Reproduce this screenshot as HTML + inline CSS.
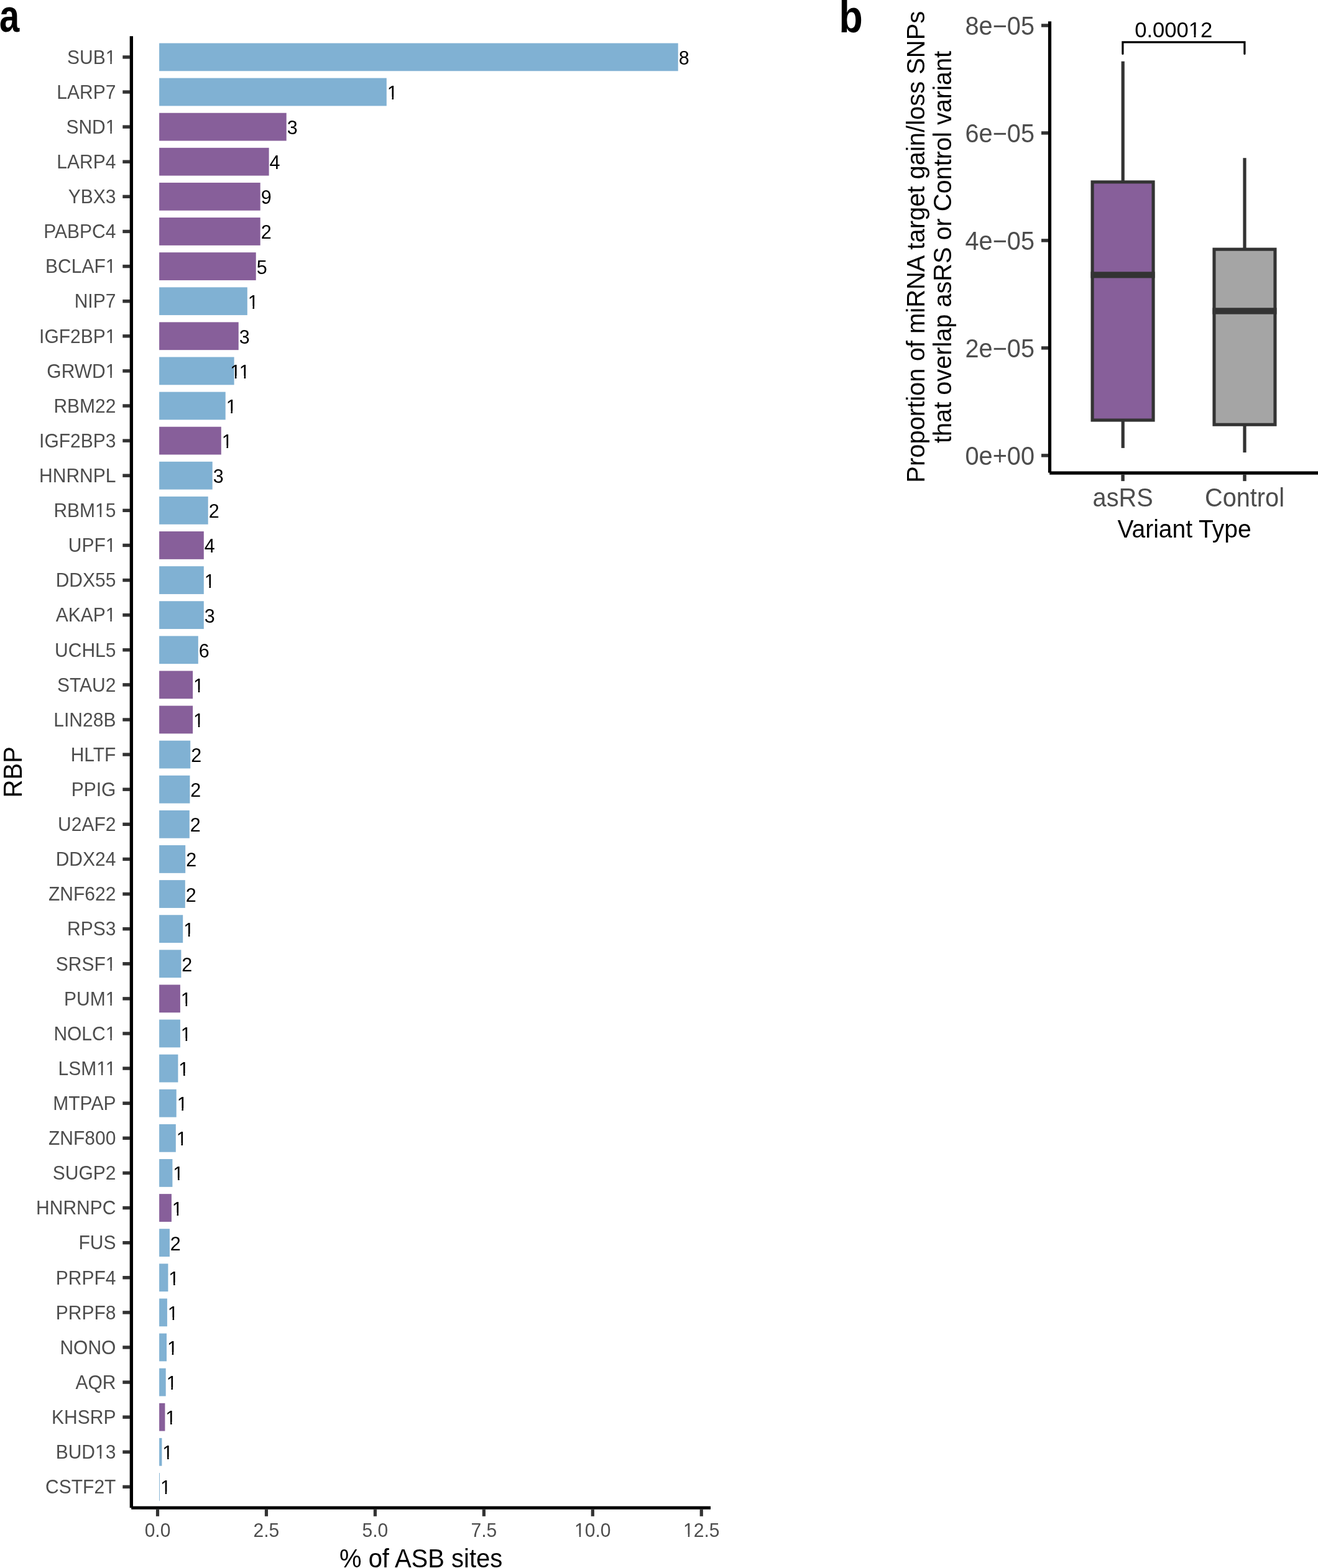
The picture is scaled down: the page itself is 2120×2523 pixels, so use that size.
<!DOCTYPE html>
<html><head><meta charset="utf-8"><title>Figure</title>
<style>
html,body{margin:0;padding:0;background:#fff;overflow:hidden;}
svg{display:block;}
text{font-family:"Liberation Sans",Arial,Helvetica,sans-serif;}
.mid{text-anchor:middle;}
.v{font-size:30.5px;fill:#000;text-anchor:middle;}
.yl{font-size:30px;fill:#4D4D4D;text-anchor:end;}
.xl{font-size:30px;fill:#4D4D4D;text-anchor:middle;}
.t40{font-size:40px;fill:#000;}
.t39{font-size:39.7px;fill:#000;}
.t35{font-size:34.6px;fill:#000;}
.vt{font-size:39px;}
.yb{font-size:39.7px;fill:#4D4D4D;text-anchor:end;}
.xb{font-size:39.7px;fill:#4D4D4D;text-anchor:middle;}
.lab{font-size:72px;font-weight:bold;fill:#000;}
</style></head>
<body>
<svg width="2120" height="2523" viewBox="0 0 2120 2523">
<defs><clipPath id="ct1_1" clipPathUnits="userSpaceOnUse"><rect x="-5000.00" y="-5000.00" width="4991.52" height="10000.00"/><rect x="8.48" y="-5000.00" width="5000.00" height="10000.00"/><rect x="-5000.00" y="-5000.00" width="10000.00" height="4996.03"/><rect x="-0.74" y="-5000.00" width="2.52" height="10000.00"/></clipPath><clipPath id="ct1_2" clipPathUnits="userSpaceOnUse"><rect x="-5000.00" y="-5000.00" width="4991.52" height="10000.00"/><rect x="8.48" y="-5000.00" width="5000.00" height="10000.00"/><rect x="-5000.00" y="-5000.00" width="10000.00" height="4996.03"/><rect x="-0.74" y="-5000.00" width="2.52" height="10000.00"/></clipPath><clipPath id="ct1_3" clipPathUnits="userSpaceOnUse"><rect x="-5000.00" y="-5000.00" width="4984.17" height="10000.00"/><rect x="15.83" y="-5000.00" width="5000.00" height="10000.00"/><rect x="-5000.00" y="-5000.00" width="10000.00" height="4996.03"/><rect x="-8.10" y="-5000.00" width="2.52" height="10000.00"/><rect x="6.59" y="-5000.00" width="2.52" height="10000.00"/></clipPath><clipPath id="ct1_4" clipPathUnits="userSpaceOnUse"><rect x="-5000.00" y="-5000.00" width="4991.52" height="10000.00"/><rect x="8.48" y="-5000.00" width="5000.00" height="10000.00"/><rect x="-5000.00" y="-5000.00" width="10000.00" height="4996.03"/><rect x="-0.74" y="-5000.00" width="2.52" height="10000.00"/></clipPath><clipPath id="ct1_5" clipPathUnits="userSpaceOnUse"><rect x="-5000.00" y="-5000.00" width="4991.52" height="10000.00"/><rect x="8.48" y="-5000.00" width="5000.00" height="10000.00"/><rect x="-5000.00" y="-5000.00" width="10000.00" height="4996.03"/><rect x="-0.74" y="-5000.00" width="2.52" height="10000.00"/></clipPath><clipPath id="ct1_6" clipPathUnits="userSpaceOnUse"><rect x="-5000.00" y="-5000.00" width="4991.52" height="10000.00"/><rect x="8.48" y="-5000.00" width="5000.00" height="10000.00"/><rect x="-5000.00" y="-5000.00" width="10000.00" height="4996.03"/><rect x="-0.74" y="-5000.00" width="2.52" height="10000.00"/></clipPath><clipPath id="ct1_7" clipPathUnits="userSpaceOnUse"><rect x="-5000.00" y="-5000.00" width="4991.52" height="10000.00"/><rect x="8.48" y="-5000.00" width="5000.00" height="10000.00"/><rect x="-5000.00" y="-5000.00" width="10000.00" height="4996.03"/><rect x="-0.74" y="-5000.00" width="2.52" height="10000.00"/></clipPath><clipPath id="ct1_8" clipPathUnits="userSpaceOnUse"><rect x="-5000.00" y="-5000.00" width="4991.52" height="10000.00"/><rect x="8.48" y="-5000.00" width="5000.00" height="10000.00"/><rect x="-5000.00" y="-5000.00" width="10000.00" height="4996.03"/><rect x="-0.74" y="-5000.00" width="2.52" height="10000.00"/></clipPath><clipPath id="ct1_9" clipPathUnits="userSpaceOnUse"><rect x="-5000.00" y="-5000.00" width="4991.52" height="10000.00"/><rect x="8.48" y="-5000.00" width="5000.00" height="10000.00"/><rect x="-5000.00" y="-5000.00" width="10000.00" height="4996.03"/><rect x="-0.74" y="-5000.00" width="2.52" height="10000.00"/></clipPath><clipPath id="ct1_10" clipPathUnits="userSpaceOnUse"><rect x="-5000.00" y="-5000.00" width="4991.52" height="10000.00"/><rect x="8.48" y="-5000.00" width="5000.00" height="10000.00"/><rect x="-5000.00" y="-5000.00" width="10000.00" height="4996.03"/><rect x="-0.74" y="-5000.00" width="2.52" height="10000.00"/></clipPath><clipPath id="ct1_11" clipPathUnits="userSpaceOnUse"><rect x="-5000.00" y="-5000.00" width="4991.52" height="10000.00"/><rect x="8.48" y="-5000.00" width="5000.00" height="10000.00"/><rect x="-5000.00" y="-5000.00" width="10000.00" height="4996.03"/><rect x="-0.74" y="-5000.00" width="2.52" height="10000.00"/></clipPath><clipPath id="ct1_12" clipPathUnits="userSpaceOnUse"><rect x="-5000.00" y="-5000.00" width="4991.52" height="10000.00"/><rect x="8.48" y="-5000.00" width="5000.00" height="10000.00"/><rect x="-5000.00" y="-5000.00" width="10000.00" height="4996.03"/><rect x="-0.74" y="-5000.00" width="2.52" height="10000.00"/></clipPath><clipPath id="ct1_13" clipPathUnits="userSpaceOnUse"><rect x="-5000.00" y="-5000.00" width="4991.52" height="10000.00"/><rect x="8.48" y="-5000.00" width="5000.00" height="10000.00"/><rect x="-5000.00" y="-5000.00" width="10000.00" height="4996.03"/><rect x="-0.74" y="-5000.00" width="2.52" height="10000.00"/></clipPath><clipPath id="ct1_14" clipPathUnits="userSpaceOnUse"><rect x="-5000.00" y="-5000.00" width="4991.52" height="10000.00"/><rect x="8.48" y="-5000.00" width="5000.00" height="10000.00"/><rect x="-5000.00" y="-5000.00" width="10000.00" height="4996.03"/><rect x="-0.74" y="-5000.00" width="2.52" height="10000.00"/></clipPath><clipPath id="ct1_15" clipPathUnits="userSpaceOnUse"><rect x="-5000.00" y="-5000.00" width="4991.52" height="10000.00"/><rect x="8.48" y="-5000.00" width="5000.00" height="10000.00"/><rect x="-5000.00" y="-5000.00" width="10000.00" height="4996.03"/><rect x="-0.74" y="-5000.00" width="2.52" height="10000.00"/></clipPath><clipPath id="ct1_16" clipPathUnits="userSpaceOnUse"><rect x="-5000.00" y="-5000.00" width="4991.52" height="10000.00"/><rect x="8.48" y="-5000.00" width="5000.00" height="10000.00"/><rect x="-5000.00" y="-5000.00" width="10000.00" height="4996.03"/><rect x="-0.74" y="-5000.00" width="2.52" height="10000.00"/></clipPath><clipPath id="ct1_17" clipPathUnits="userSpaceOnUse"><rect x="-5000.00" y="-5000.00" width="4991.52" height="10000.00"/><rect x="8.48" y="-5000.00" width="5000.00" height="10000.00"/><rect x="-5000.00" y="-5000.00" width="10000.00" height="4996.03"/><rect x="-0.74" y="-5000.00" width="2.52" height="10000.00"/></clipPath><clipPath id="ct1_18" clipPathUnits="userSpaceOnUse"><rect x="-5000.00" y="-5000.00" width="4991.52" height="10000.00"/><rect x="8.48" y="-5000.00" width="5000.00" height="10000.00"/><rect x="-5000.00" y="-5000.00" width="10000.00" height="4996.03"/><rect x="-0.74" y="-5000.00" width="2.52" height="10000.00"/></clipPath><clipPath id="ct1_19" clipPathUnits="userSpaceOnUse"><rect x="-5000.00" y="-5000.00" width="4991.52" height="10000.00"/><rect x="8.48" y="-5000.00" width="5000.00" height="10000.00"/><rect x="-5000.00" y="-5000.00" width="10000.00" height="4996.03"/><rect x="-0.74" y="-5000.00" width="2.52" height="10000.00"/></clipPath><clipPath id="ct1_20" clipPathUnits="userSpaceOnUse"><rect x="-5000.00" y="-5000.00" width="4991.52" height="10000.00"/><rect x="8.48" y="-5000.00" width="5000.00" height="10000.00"/><rect x="-5000.00" y="-5000.00" width="10000.00" height="4996.03"/><rect x="-0.74" y="-5000.00" width="2.52" height="10000.00"/></clipPath><clipPath id="ct1_21" clipPathUnits="userSpaceOnUse"><rect x="-5000.00" y="-5000.00" width="4991.52" height="10000.00"/><rect x="8.48" y="-5000.00" width="5000.00" height="10000.00"/><rect x="-5000.00" y="-5000.00" width="10000.00" height="4996.03"/><rect x="-0.74" y="-5000.00" width="2.52" height="10000.00"/></clipPath><clipPath id="ct1_22" clipPathUnits="userSpaceOnUse"><rect x="-5000.00" y="-5000.00" width="4991.52" height="10000.00"/><rect x="8.48" y="-5000.00" width="5000.00" height="10000.00"/><rect x="-5000.00" y="-5000.00" width="10000.00" height="4996.03"/><rect x="-0.74" y="-5000.00" width="2.52" height="10000.00"/></clipPath><clipPath id="ct1_23" clipPathUnits="userSpaceOnUse"><rect x="-5000.00" y="-5000.00" width="4991.52" height="10000.00"/><rect x="8.48" y="-5000.00" width="5000.00" height="10000.00"/><rect x="-5000.00" y="-5000.00" width="10000.00" height="4996.03"/><rect x="-0.74" y="-5000.00" width="2.52" height="10000.00"/></clipPath><clipPath id="ct1_24" clipPathUnits="userSpaceOnUse"><rect x="-5000.00" y="-5000.00" width="4983.30" height="10000.00"/><rect x="0.00" y="-5000.00" width="5000.00" height="10000.00"/><rect x="-5000.00" y="-5000.00" width="10000.00" height="4996.10"/><rect x="-9.09" y="-5000.00" width="2.48" height="10000.00"/></clipPath><clipPath id="ct1_25" clipPathUnits="userSpaceOnUse"><rect x="-5000.00" y="-5000.00" width="4983.31" height="10000.00"/><rect x="0.00" y="-5000.00" width="5000.00" height="10000.00"/><rect x="-5000.00" y="-5000.00" width="10000.00" height="4996.10"/><rect x="-9.08" y="-5000.00" width="2.48" height="10000.00"/></clipPath><clipPath id="ct1_26" clipPathUnits="userSpaceOnUse"><rect x="-5000.00" y="-5000.00" width="4983.31" height="10000.00"/><rect x="0.00" y="-5000.00" width="5000.00" height="10000.00"/><rect x="-5000.00" y="-5000.00" width="10000.00" height="4996.10"/><rect x="-9.08" y="-5000.00" width="2.48" height="10000.00"/></clipPath><clipPath id="ct1_27" clipPathUnits="userSpaceOnUse"><rect x="-5000.00" y="-5000.00" width="4983.31" height="10000.00"/><rect x="0.00" y="-5000.00" width="5000.00" height="10000.00"/><rect x="-5000.00" y="-5000.00" width="10000.00" height="4996.10"/><rect x="-9.08" y="-5000.00" width="2.48" height="10000.00"/></clipPath><clipPath id="ct1_28" clipPathUnits="userSpaceOnUse"><rect x="-5000.00" y="-5000.00" width="4983.31" height="10000.00"/><rect x="0.00" y="-5000.00" width="5000.00" height="10000.00"/><rect x="-5000.00" y="-5000.00" width="10000.00" height="4996.10"/><rect x="-9.08" y="-5000.00" width="2.48" height="10000.00"/></clipPath><clipPath id="ct1_29" clipPathUnits="userSpaceOnUse"><rect x="-5000.00" y="-5000.00" width="4966.63" height="10000.00"/><rect x="-16.69" y="-5000.00" width="5000.00" height="10000.00"/><rect x="-5000.00" y="-5000.00" width="10000.00" height="4996.10"/><rect x="-25.76" y="-5000.00" width="2.48" height="10000.00"/></clipPath><clipPath id="ct1_30" clipPathUnits="userSpaceOnUse"><rect x="-5000.00" y="-5000.00" width="4983.31" height="10000.00"/><rect x="0.00" y="-5000.00" width="5000.00" height="10000.00"/><rect x="-5000.00" y="-5000.00" width="10000.00" height="4996.10"/><rect x="-9.08" y="-5000.00" width="2.48" height="10000.00"/></clipPath><clipPath id="ct1_31" clipPathUnits="userSpaceOnUse"><rect x="-5000.00" y="-5000.00" width="4983.30" height="10000.00"/><rect x="0.00" y="-5000.00" width="5000.00" height="10000.00"/><rect x="-5000.00" y="-5000.00" width="10000.00" height="4996.10"/><rect x="-9.09" y="-5000.00" width="2.48" height="10000.00"/></clipPath><clipPath id="ct1_32" clipPathUnits="userSpaceOnUse"><rect x="-5000.00" y="-5000.00" width="4983.30" height="10000.00"/><rect x="0.00" y="-5000.00" width="5000.00" height="10000.00"/><rect x="-5000.00" y="-5000.00" width="10000.00" height="4996.10"/><rect x="-9.09" y="-5000.00" width="2.48" height="10000.00"/></clipPath><clipPath id="ct1_33" clipPathUnits="userSpaceOnUse"><rect x="-5000.00" y="-5000.00" width="4983.31" height="10000.00"/><rect x="0.00" y="-5000.00" width="5000.00" height="10000.00"/><rect x="-5000.00" y="-5000.00" width="10000.00" height="4996.10"/><rect x="-9.08" y="-5000.00" width="2.48" height="10000.00"/></clipPath><clipPath id="ct1_34" clipPathUnits="userSpaceOnUse"><rect x="-5000.00" y="-5000.00" width="4983.30" height="10000.00"/><rect x="0.00" y="-5000.00" width="5000.00" height="10000.00"/><rect x="-5000.00" y="-5000.00" width="10000.00" height="4996.10"/><rect x="-9.09" y="-5000.00" width="2.48" height="10000.00"/></clipPath><clipPath id="ct1_35" clipPathUnits="userSpaceOnUse"><rect x="-5000.00" y="-5000.00" width="4968.85" height="10000.00"/><rect x="0.00" y="-5000.00" width="5000.00" height="10000.00"/><rect x="-5000.00" y="-5000.00" width="10000.00" height="4996.10"/><rect x="-23.54" y="-5000.00" width="2.48" height="10000.00"/><rect x="-9.09" y="-5000.00" width="2.48" height="10000.00"/></clipPath><clipPath id="ct1_36" clipPathUnits="userSpaceOnUse"><rect x="-5000.00" y="-5000.00" width="4966.63" height="10000.00"/><rect x="-16.69" y="-5000.00" width="5000.00" height="10000.00"/><rect x="-5000.00" y="-5000.00" width="10000.00" height="4996.10"/><rect x="-25.76" y="-5000.00" width="2.48" height="10000.00"/></clipPath><clipPath id="ct1_37" clipPathUnits="userSpaceOnUse"><rect x="-5000.00" y="-5000.00" width="4970.81" height="10000.00"/><rect x="-12.50" y="-5000.00" width="5000.00" height="10000.00"/><rect x="-5000.00" y="-5000.00" width="10000.00" height="4996.10"/><rect x="-21.58" y="-5000.00" width="2.48" height="10000.00"/></clipPath><clipPath id="ct1_38" clipPathUnits="userSpaceOnUse"><rect x="-5000.00" y="-5000.00" width="4970.81" height="10000.00"/><rect x="-12.50" y="-5000.00" width="5000.00" height="10000.00"/><rect x="-5000.00" y="-5000.00" width="10000.00" height="4996.10"/><rect x="-21.58" y="-5000.00" width="2.48" height="10000.00"/></clipPath><clipPath id="ct1_39" clipPathUnits="userSpaceOnUse"><rect x="-5000.00" y="-5000.00" width="5024.02" height="10000.00"/><rect x="43.27" y="-5000.00" width="5000.00" height="10000.00"/><rect x="-5000.00" y="-5000.00" width="10000.00" height="4995.50"/><rect x="32.79" y="-5000.00" width="2.88" height="10000.00"/></clipPath></defs>
<rect x="0" y="0" width="2120" height="2523" fill="#fff"/>
<rect x="256.1" y="69.50" width="834.60" height="44.8" fill="#80B1D3"/>
<rect x="256.1" y="125.61" width="365.70" height="44.8" fill="#80B1D3"/>
<rect x="256.1" y="181.72" width="204.60" height="44.8" fill="#875F9A"/>
<rect x="256.1" y="237.83" width="176.50" height="44.8" fill="#875F9A"/>
<rect x="256.1" y="293.94" width="162.60" height="44.8" fill="#875F9A"/>
<rect x="256.1" y="350.05" width="162.60" height="44.8" fill="#875F9A"/>
<rect x="256.1" y="406.16" width="155.60" height="44.8" fill="#875F9A"/>
<rect x="256.1" y="462.27" width="141.70" height="44.8" fill="#80B1D3"/>
<rect x="256.1" y="518.38" width="127.60" height="44.8" fill="#875F9A"/>
<rect x="256.1" y="574.49" width="120.50" height="44.8" fill="#80B1D3"/>
<rect x="256.1" y="630.60" width="106.60" height="44.8" fill="#80B1D3"/>
<rect x="256.1" y="686.71" width="99.70" height="44.8" fill="#875F9A"/>
<rect x="256.1" y="742.82" width="85.60" height="44.8" fill="#80B1D3"/>
<rect x="256.1" y="798.93" width="78.60" height="44.8" fill="#80B1D3"/>
<rect x="256.1" y="855.04" width="71.70" height="44.8" fill="#875F9A"/>
<rect x="256.1" y="911.15" width="71.70" height="44.8" fill="#80B1D3"/>
<rect x="256.1" y="967.26" width="71.70" height="44.8" fill="#80B1D3"/>
<rect x="256.1" y="1023.37" width="62.70" height="44.8" fill="#80B1D3"/>
<rect x="256.1" y="1079.48" width="54.00" height="44.8" fill="#875F9A"/>
<rect x="256.1" y="1135.59" width="54.00" height="44.8" fill="#875F9A"/>
<rect x="256.1" y="1191.70" width="50.10" height="44.8" fill="#80B1D3"/>
<rect x="256.1" y="1247.81" width="49.30" height="44.8" fill="#80B1D3"/>
<rect x="256.1" y="1303.92" width="48.70" height="44.8" fill="#80B1D3"/>
<rect x="256.1" y="1360.03" width="42.10" height="44.8" fill="#80B1D3"/>
<rect x="256.1" y="1416.14" width="41.70" height="44.8" fill="#80B1D3"/>
<rect x="256.1" y="1472.25" width="38.10" height="44.8" fill="#80B1D3"/>
<rect x="256.1" y="1528.36" width="35.30" height="44.8" fill="#80B1D3"/>
<rect x="256.1" y="1584.47" width="33.80" height="44.8" fill="#875F9A"/>
<rect x="256.1" y="1640.58" width="33.80" height="44.8" fill="#80B1D3"/>
<rect x="256.1" y="1696.69" width="30.30" height="44.8" fill="#80B1D3"/>
<rect x="256.1" y="1752.80" width="27.60" height="44.8" fill="#80B1D3"/>
<rect x="256.1" y="1808.91" width="26.70" height="44.8" fill="#80B1D3"/>
<rect x="256.1" y="1865.02" width="21.30" height="44.8" fill="#80B1D3"/>
<rect x="256.1" y="1921.13" width="19.80" height="44.8" fill="#875F9A"/>
<rect x="256.1" y="1977.24" width="16.80" height="44.8" fill="#80B1D3"/>
<rect x="256.1" y="2033.35" width="14.30" height="44.8" fill="#80B1D3"/>
<rect x="256.1" y="2089.46" width="12.80" height="44.8" fill="#80B1D3"/>
<rect x="256.1" y="2145.57" width="11.90" height="44.8" fill="#80B1D3"/>
<rect x="256.1" y="2201.68" width="10.60" height="44.8" fill="#80B1D3"/>
<rect x="256.1" y="2257.79" width="9.30" height="44.8" fill="#875F9A"/>
<rect x="256.1" y="2313.90" width="4.30" height="44.8" fill="#80B1D3"/>
<rect x="256.1" y="2370.01" width="0.90" height="44.8" fill="#80B1D3"/>
<text transform="translate(1100.10,103.90) scale(1.0,1.05)" class="v">8</text>
<text clip-path="url(#ct1_1)" transform="translate(631.20,160.01) scale(1.0,1.05)" class="v">1</text>
<text transform="translate(470.10,216.12) scale(1.0,1.05)" class="v">3</text>
<text transform="translate(442.00,272.23) scale(1.0,1.05)" class="v">4</text>
<text transform="translate(428.10,328.34) scale(1.0,1.05)" class="v">9</text>
<text transform="translate(428.10,384.45) scale(1.0,1.05)" class="v">2</text>
<text transform="translate(421.10,440.56) scale(1.0,1.05)" class="v">5</text>
<text clip-path="url(#ct1_2)" transform="translate(407.20,496.67) scale(1.0,1.05)" class="v">1</text>
<text transform="translate(393.10,552.78) scale(1.0,1.05)" class="v">3</text>
<text clip-path="url(#ct1_3)" transform="translate(386.00,608.89) scale(1.0,1.05)" class="v">11</text>
<text clip-path="url(#ct1_4)" transform="translate(372.10,665.00) scale(1.0,1.05)" class="v">1</text>
<text clip-path="url(#ct1_5)" transform="translate(365.20,721.11) scale(1.0,1.05)" class="v">1</text>
<text transform="translate(351.10,777.22) scale(1.0,1.05)" class="v">3</text>
<text transform="translate(344.10,833.33) scale(1.0,1.05)" class="v">2</text>
<text transform="translate(337.20,889.44) scale(1.0,1.05)" class="v">4</text>
<text clip-path="url(#ct1_6)" transform="translate(337.20,945.55) scale(1.0,1.05)" class="v">1</text>
<text transform="translate(337.20,1001.66) scale(1.0,1.05)" class="v">3</text>
<text transform="translate(328.20,1057.77) scale(1.0,1.05)" class="v">6</text>
<text clip-path="url(#ct1_7)" transform="translate(319.50,1113.88) scale(1.0,1.05)" class="v">1</text>
<text clip-path="url(#ct1_8)" transform="translate(319.50,1169.99) scale(1.0,1.05)" class="v">1</text>
<text transform="translate(315.60,1226.10) scale(1.0,1.05)" class="v">2</text>
<text transform="translate(314.80,1282.21) scale(1.0,1.05)" class="v">2</text>
<text transform="translate(314.20,1338.32) scale(1.0,1.05)" class="v">2</text>
<text transform="translate(307.60,1394.43) scale(1.0,1.05)" class="v">2</text>
<text transform="translate(307.20,1450.54) scale(1.0,1.05)" class="v">2</text>
<text clip-path="url(#ct1_9)" transform="translate(303.60,1506.65) scale(1.0,1.05)" class="v">1</text>
<text transform="translate(300.80,1562.76) scale(1.0,1.05)" class="v">2</text>
<text clip-path="url(#ct1_10)" transform="translate(299.30,1618.87) scale(1.0,1.05)" class="v">1</text>
<text clip-path="url(#ct1_11)" transform="translate(299.30,1674.98) scale(1.0,1.05)" class="v">1</text>
<text clip-path="url(#ct1_12)" transform="translate(295.80,1731.09) scale(1.0,1.05)" class="v">1</text>
<text clip-path="url(#ct1_13)" transform="translate(293.10,1787.20) scale(1.0,1.05)" class="v">1</text>
<text clip-path="url(#ct1_14)" transform="translate(292.20,1843.31) scale(1.0,1.05)" class="v">1</text>
<text clip-path="url(#ct1_15)" transform="translate(286.80,1899.42) scale(1.0,1.05)" class="v">1</text>
<text clip-path="url(#ct1_16)" transform="translate(285.30,1955.53) scale(1.0,1.05)" class="v">1</text>
<text transform="translate(282.30,2011.64) scale(1.0,1.05)" class="v">2</text>
<text clip-path="url(#ct1_17)" transform="translate(279.80,2067.75) scale(1.0,1.05)" class="v">1</text>
<text clip-path="url(#ct1_18)" transform="translate(278.30,2123.86) scale(1.0,1.05)" class="v">1</text>
<text clip-path="url(#ct1_19)" transform="translate(277.40,2179.97) scale(1.0,1.05)" class="v">1</text>
<text clip-path="url(#ct1_20)" transform="translate(276.10,2236.08) scale(1.0,1.05)" class="v">1</text>
<text clip-path="url(#ct1_21)" transform="translate(274.80,2292.19) scale(1.0,1.05)" class="v">1</text>
<text clip-path="url(#ct1_22)" transform="translate(269.80,2348.30) scale(1.0,1.05)" class="v">1</text>
<text clip-path="url(#ct1_23)" transform="translate(266.40,2404.41) scale(1.0,1.05)" class="v">1</text>
<text clip-path="url(#ct1_24)" transform="translate(186.40,102.70) scale(1.0,1.05)" class="yl">SUB1</text>
<rect x="197.3" y="89.20" width="11.6" height="5.4" fill="#333333"/>
<text transform="translate(186.40,158.81) scale(1.0,1.05)" class="yl">LARP7</text>
<rect x="197.3" y="145.31" width="11.6" height="5.4" fill="#333333"/>
<text clip-path="url(#ct1_25)" transform="translate(186.40,214.92) scale(1.0,1.05)" class="yl">SND1</text>
<rect x="197.3" y="201.42" width="11.6" height="5.4" fill="#333333"/>
<text transform="translate(186.40,271.03) scale(1.0,1.05)" class="yl">LARP4</text>
<rect x="197.3" y="257.53" width="11.6" height="5.4" fill="#333333"/>
<text transform="translate(186.40,327.14) scale(1.0,1.05)" class="yl">YBX3</text>
<rect x="197.3" y="313.64" width="11.6" height="5.4" fill="#333333"/>
<text transform="translate(186.40,383.25) scale(1.0,1.05)" class="yl">PABPC4</text>
<rect x="197.3" y="369.75" width="11.6" height="5.4" fill="#333333"/>
<text clip-path="url(#ct1_26)" transform="translate(186.40,439.36) scale(1.0,1.05)" class="yl">BCLAF1</text>
<rect x="197.3" y="425.86" width="11.6" height="5.4" fill="#333333"/>
<text transform="translate(186.40,495.47) scale(1.0,1.05)" class="yl">NIP7</text>
<rect x="197.3" y="481.97" width="11.6" height="5.4" fill="#333333"/>
<text clip-path="url(#ct1_27)" transform="translate(186.40,551.58) scale(1.0,1.05)" class="yl">IGF2BP1</text>
<rect x="197.3" y="538.08" width="11.6" height="5.4" fill="#333333"/>
<text clip-path="url(#ct1_28)" transform="translate(186.40,607.69) scale(1.0,1.05)" class="yl">GRWD1</text>
<rect x="197.3" y="594.19" width="11.6" height="5.4" fill="#333333"/>
<text transform="translate(186.40,663.80) scale(1.0,1.05)" class="yl">RBM22</text>
<rect x="197.3" y="650.30" width="11.6" height="5.4" fill="#333333"/>
<text transform="translate(186.40,719.91) scale(1.0,1.05)" class="yl">IGF2BP3</text>
<rect x="197.3" y="706.41" width="11.6" height="5.4" fill="#333333"/>
<text transform="translate(186.40,776.02) scale(1.0,1.05)" class="yl">HNRNPL</text>
<rect x="197.3" y="762.52" width="11.6" height="5.4" fill="#333333"/>
<text clip-path="url(#ct1_29)" transform="translate(186.40,832.13) scale(1.0,1.05)" class="yl">RBM15</text>
<rect x="197.3" y="818.63" width="11.6" height="5.4" fill="#333333"/>
<text clip-path="url(#ct1_30)" transform="translate(186.40,888.24) scale(1.0,1.05)" class="yl">UPF1</text>
<rect x="197.3" y="874.74" width="11.6" height="5.4" fill="#333333"/>
<text transform="translate(186.40,944.35) scale(1.0,1.05)" class="yl">DDX55</text>
<rect x="197.3" y="930.85" width="11.6" height="5.4" fill="#333333"/>
<text clip-path="url(#ct1_31)" transform="translate(186.40,1000.46) scale(1.0,1.05)" class="yl">AKAP1</text>
<rect x="197.3" y="986.96" width="11.6" height="5.4" fill="#333333"/>
<text transform="translate(186.40,1056.57) scale(1.0,1.05)" class="yl">UCHL5</text>
<rect x="197.3" y="1043.07" width="11.6" height="5.4" fill="#333333"/>
<text transform="translate(186.40,1112.68) scale(1.0,1.05)" class="yl">STAU2</text>
<rect x="197.3" y="1099.18" width="11.6" height="5.4" fill="#333333"/>
<text transform="translate(186.40,1168.79) scale(1.0,1.05)" class="yl">LIN28B</text>
<rect x="197.3" y="1155.29" width="11.6" height="5.4" fill="#333333"/>
<text transform="translate(186.40,1224.90) scale(1.0,1.05)" class="yl">HLTF</text>
<rect x="197.3" y="1211.40" width="11.6" height="5.4" fill="#333333"/>
<text transform="translate(186.40,1281.01) scale(1.0,1.05)" class="yl">PPIG</text>
<rect x="197.3" y="1267.51" width="11.6" height="5.4" fill="#333333"/>
<text transform="translate(186.40,1337.12) scale(1.0,1.05)" class="yl">U2AF2</text>
<rect x="197.3" y="1323.62" width="11.6" height="5.4" fill="#333333"/>
<text transform="translate(186.40,1393.23) scale(1.0,1.05)" class="yl">DDX24</text>
<rect x="197.3" y="1379.73" width="11.6" height="5.4" fill="#333333"/>
<text transform="translate(186.40,1449.34) scale(1.0,1.05)" class="yl">ZNF622</text>
<rect x="197.3" y="1435.84" width="11.6" height="5.4" fill="#333333"/>
<text transform="translate(186.40,1505.45) scale(1.0,1.05)" class="yl">RPS3</text>
<rect x="197.3" y="1491.95" width="11.6" height="5.4" fill="#333333"/>
<text clip-path="url(#ct1_32)" transform="translate(186.40,1561.56) scale(1.0,1.05)" class="yl">SRSF1</text>
<rect x="197.3" y="1548.06" width="11.6" height="5.4" fill="#333333"/>
<text clip-path="url(#ct1_33)" transform="translate(186.40,1617.67) scale(1.0,1.05)" class="yl">PUM1</text>
<rect x="197.3" y="1604.17" width="11.6" height="5.4" fill="#333333"/>
<text clip-path="url(#ct1_34)" transform="translate(186.40,1673.78) scale(1.0,1.05)" class="yl">NOLC1</text>
<rect x="197.3" y="1660.28" width="11.6" height="5.4" fill="#333333"/>
<text clip-path="url(#ct1_35)" transform="translate(186.40,1729.89) scale(1.0,1.05)" class="yl">LSM11</text>
<rect x="197.3" y="1716.39" width="11.6" height="5.4" fill="#333333"/>
<text transform="translate(186.40,1786.00) scale(1.0,1.05)" class="yl">MTPAP</text>
<rect x="197.3" y="1772.50" width="11.6" height="5.4" fill="#333333"/>
<text transform="translate(186.40,1842.11) scale(1.0,1.05)" class="yl">ZNF800</text>
<rect x="197.3" y="1828.61" width="11.6" height="5.4" fill="#333333"/>
<text transform="translate(186.40,1898.22) scale(1.0,1.05)" class="yl">SUGP2</text>
<rect x="197.3" y="1884.72" width="11.6" height="5.4" fill="#333333"/>
<text transform="translate(186.40,1954.33) scale(1.0,1.05)" class="yl">HNRNPC</text>
<rect x="197.3" y="1940.83" width="11.6" height="5.4" fill="#333333"/>
<text transform="translate(186.40,2010.44) scale(1.0,1.05)" class="yl">FUS</text>
<rect x="197.3" y="1996.94" width="11.6" height="5.4" fill="#333333"/>
<text transform="translate(186.40,2066.55) scale(1.0,1.05)" class="yl">PRPF4</text>
<rect x="197.3" y="2053.05" width="11.6" height="5.4" fill="#333333"/>
<text transform="translate(186.40,2122.66) scale(1.0,1.05)" class="yl">PRPF8</text>
<rect x="197.3" y="2109.16" width="11.6" height="5.4" fill="#333333"/>
<text transform="translate(186.40,2178.77) scale(1.0,1.05)" class="yl">NONO</text>
<rect x="197.3" y="2165.27" width="11.6" height="5.4" fill="#333333"/>
<text transform="translate(186.40,2234.88) scale(1.0,1.05)" class="yl">AQR</text>
<rect x="197.3" y="2221.38" width="11.6" height="5.4" fill="#333333"/>
<text transform="translate(186.40,2290.99) scale(1.0,1.05)" class="yl">KHSRP</text>
<rect x="197.3" y="2277.49" width="11.6" height="5.4" fill="#333333"/>
<text clip-path="url(#ct1_36)" transform="translate(186.40,2347.10) scale(1.0,1.05)" class="yl">BUD13</text>
<rect x="197.3" y="2333.60" width="11.6" height="5.4" fill="#333333"/>
<text transform="translate(186.40,2403.21) scale(1.0,1.05)" class="yl">CSTF2T</text>
<rect x="197.3" y="2389.71" width="11.6" height="5.4" fill="#333333"/>
<rect x="208.7" y="58.2" width="5.3" height="2368" fill="#000"/>
<rect x="211.2" y="2423.6" width="931.8" height="5.1" fill="#000"/>
<rect x="250.90" y="2428.7" width="5.2" height="11.1" fill="#333333"/>
<text transform="translate(253.50,2473.30) scale(1.0,1.05)" class="xl">0.0</text>
<rect x="425.85" y="2428.7" width="5.2" height="11.1" fill="#333333"/>
<text transform="translate(428.45,2473.30) scale(1.0,1.05)" class="xl">2.5</text>
<rect x="600.80" y="2428.7" width="5.2" height="11.1" fill="#333333"/>
<text transform="translate(603.40,2473.30) scale(1.0,1.05)" class="xl">5.0</text>
<rect x="775.75" y="2428.7" width="5.2" height="11.1" fill="#333333"/>
<text transform="translate(778.35,2473.30) scale(1.0,1.05)" class="xl">7.5</text>
<rect x="950.70" y="2428.7" width="5.2" height="11.1" fill="#333333"/>
<text clip-path="url(#ct1_37)" transform="translate(953.30,2473.30) scale(1.0,1.05)" class="xl">10.0</text>
<rect x="1125.65" y="2428.7" width="5.2" height="11.1" fill="#333333"/>
<text clip-path="url(#ct1_38)" transform="translate(1128.25,2473.30) scale(1.0,1.05)" class="xl">12.5</text>
<text transform="translate(677.10,2521.60) scale(1.0,1.04)" class="t40 mid">% of ASB sites</text>
<text transform="translate(34.90,1242.30) rotate(-90) scale(1.0,1.04)" class="t40 mid">RBP</text>
<text transform="translate(-0.9,50.7) scale(0.805,1.03)" class="lab">a</text>
<rect x="1685.9" y="34.4" width="5.2" height="726.2" fill="#000"/>
<rect x="1688.2" y="758.4" width="440" height="5.3" fill="#000"/>
<rect x="1675" y="38.30" width="11" height="5.4" fill="#333333"/>
<text transform="translate(1664.00,55.60) scale(1.0,1.05)" class="yb">8e−05</text>
<rect x="1675" y="211.27" width="11" height="5.4" fill="#333333"/>
<text transform="translate(1664.00,228.57) scale(1.0,1.05)" class="yb">6e−05</text>
<rect x="1675" y="384.25" width="11" height="5.4" fill="#333333"/>
<text transform="translate(1664.00,401.55) scale(1.0,1.05)" class="yb">4e−05</text>
<rect x="1675" y="557.22" width="11" height="5.4" fill="#333333"/>
<text transform="translate(1664.00,574.52) scale(1.0,1.05)" class="yb">2e−05</text>
<rect x="1675" y="730.20" width="11" height="5.4" fill="#333333"/>
<text transform="translate(1664.00,747.50) scale(1.0,1.05)" class="yb">0e+00</text>
<rect x="1803.40" y="763.7" width="5.4" height="10.4" fill="#333333"/>
<text transform="translate(1806.10,814.80) scale(1.0,1.05)" class="xb">asRS</text>
<rect x="1999.30" y="763.7" width="5.4" height="10.4" fill="#333333"/>
<text transform="translate(2002.00,814.80) scale(1.0,1.05)" class="xb">Control</text>
<text transform="translate(1905.00,865.30) scale(1.0,1.04)" class="t39 mid vt">Variant Type</text>
<text transform="translate(1486.90,397.20) rotate(-90) scale(1.006,1.04)" class="t39 mid">Proportion of miRNA target gain/loss SNPs</text>
<text transform="translate(1529.90,397.50) rotate(-90) scale(1.0,1.04)" class="t39 mid">that overlap asRS or Control variant</text>
<rect x="1803.6" y="98.7" width="5.2" height="194" fill="#333333"/>
<rect x="1803.6" y="676" width="5.2" height="44.9" fill="#333333"/>
<rect x="1999.4" y="254.2" width="5.2" height="147" fill="#333333"/>
<rect x="1999.4" y="683" width="5.2" height="45.1" fill="#333333"/>
<rect x="1757.05" y="292.85" width="98" height="383.2" fill="#875F9A" stroke="#333333" stroke-width="5.1"/>
<rect x="1754.5" y="437.3" width="103.1" height="10.1" fill="#333333"/>
<rect x="1952.95" y="401.15" width="98" height="282.1" fill="#A5A5A5" stroke="#333333" stroke-width="5.1"/>
<rect x="1950.4" y="495.3" width="103.1" height="10.3" fill="#333333"/>
<path d="M1805.9 86.4 V67.85 H2001.9 V86.4" fill="none" stroke="#000" stroke-width="3.2" stroke-linecap="round"/>
<text clip-path="url(#ct1_39)" transform="translate(1887.70,60.40) scale(1.0,1.04)" class="t35 mid">0.00012</text>
<text transform="translate(1349.4,51.9) scale(0.87,1.03)" class="lab">b</text>
</svg>
</body></html>
